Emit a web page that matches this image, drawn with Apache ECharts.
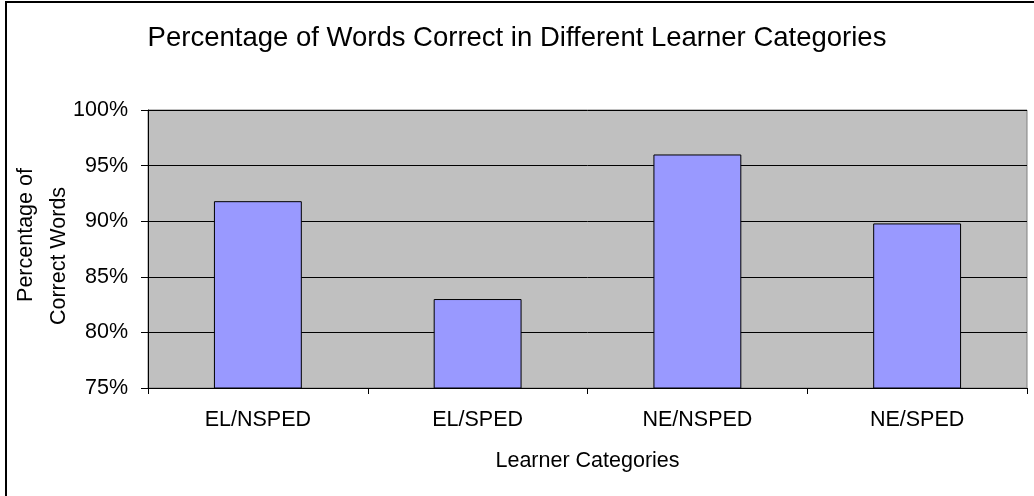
<!DOCTYPE html>
<html>
<head>
<meta charset="utf-8">
<script src="https://cdn.jsdelivr.net/npm/echarts@6/dist/echarts.min.js"></script>
<style>
html,body{margin:0;padding:0;background:#fff;}
#chart{width:1034px;height:496px;}
</style>
</head>
<body>
<div id="chart"></div>
<script>
var categories = ['EL/NSPED', 'EL/SPED', 'NE/NSPED', 'NE/SPED'];
var values = [91.8, 83.0, 96.0, 89.8];
var yMin = 75, yMax = 100, yStep = 5;

var FONT = "'Liberation Sans', Arial, sans-serif";
var chart = echarts.init(document.getElementById('chart'), null, {renderer: 'canvas'});
chart.setOption({
  backgroundColor: '#ffffff',
  animation: false,
  title: {
    text: 'Percentage of Words Correct in Different Learner Categories',
    left: 'center',
    top: 19,
    textStyle: {fontFamily: FONT, fontSize: 27.5, fontWeight: 'normal', color: '#000'}
  },
  graphic: [{
    type: 'rect',
    shape: {x: 6, y: 2, width: 1100, height: 600},
    style: {fill: 'none', stroke: '#000', lineWidth: 2},
    silent: true, z: -1
  }],
  grid: {
    left: 148, right: 7, top: 110, bottom: 108,
    outerBoundsMode: 'none',
    containLabel: false,
    show: true, backgroundColor: '#C0C0C0', borderColor: '#808080', borderWidth: 1
  },
  xAxis: {
    type: 'category',
    data: categories,
    name: 'Learner Categories',
    nameLocation: 'middle',
    nameGap: 62,
    nameMoveOverlap: false,
    nameTextStyle: {fontFamily: FONT, fontSize: 21.5, color: '#000'},
    axisLine: {lineStyle: {color: '#000', width: 1}},
    axisTick: {show: true, length: 6, lineStyle: {color: '#000'}},
    axisLabel: {fontFamily: FONT, fontSize: 21.5, color: '#000', margin: 21}
  },
  yAxis: {
    type: 'value',
    min: yMin, max: yMax, interval: yStep,
    name: '{a|Percentage of}\n{b|Correct Words}',
    nameLocation: 'middle',
    nameRotate: 90,
    nameGap: 72,
    nameMoveOverlap: false,
    nameTextStyle: {
      fontFamily: FONT, fontSize: 21.5, color: '#000', lineHeight: 33,
      rich: {
        a: {fontFamily: FONT, fontSize: 21.5, color: '#000', lineHeight: 33, padding: [0, 14, 0, 42]},
        b: {fontFamily: FONT, fontSize: 21.5, color: '#000', lineHeight: 33, padding: [0, 14, 0, 0]}
      }
    },
    axisLine: {show: true, lineStyle: {color: '#000', width: 1}},
    axisTick: {show: true, length: 7, lineStyle: {color: '#000'}},
    axisLabel: {fontFamily: FONT, fontSize: 21.5, color: '#000', margin: 20, formatter: '{value}%'},
    splitLine: {show: true, lineStyle: {color: '#000', width: 1}}
  },
  series: [{
    type: 'bar',
    data: values,
    barCategoryGap: '60%',
    itemStyle: {color: '#9999FF', borderColor: '#000', borderWidth: 1}
  }]
});
</script>
</body>
</html>
